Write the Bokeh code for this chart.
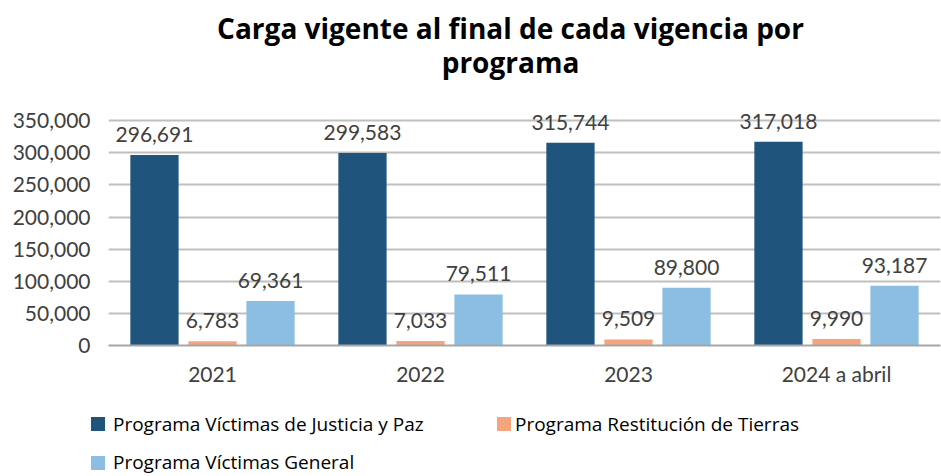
from bokeh.plotting import figure
from bokeh.layouts import column
from bokeh.models import (ColumnDataSource, FactorRange, Range1d, FixedTicker,
                          NumeralTickFormatter, LabelSet, Label, Div)
from bokeh.core.properties import value
from bokeh.transform import dodge
from bokeh.embed import file_html
from bokeh.resources import INLINE

categories = ["2021", "2022", "2023", "2024 a abril"]
justicia_paz = [296691, 299583, 315744, 317018]
restitucion = [6783, 7033, 9509, 9990]
victimas_general = [69361, 79511, 89800, 93187]
series_names = ["Programa Víctimas de Justicia y Paz",
                "Programa Restitución de Tierras",
                "Programa Víctimas General"]
title_lines = ["Carga vigente al final de cada vigencia por", "programa"]
colors = ["#1F547D", "#F4A57E", "#8CBDE3"]
y_ticks = [0, 50000, 100000, 150000, 200000, 250000, 300000, 350000]

FONT = "Lato"
TFONT = "Open Sans"

src = ColumnDataSource(dict(
    cat=categories,
    s0=justicia_paz, s1=restitucion, s2=victimas_general,
    l0=[f"{v:,}" for v in justicia_paz],
    l1=[f"{v:,}" for v in restitucion],
    l2=[f"{v:,}" for v in victimas_general],
))

# ---- title strip (pixel coordinates) ----
tf = figure(width=941, height=90, x_range=Range1d(108, 940), y_range=Range1d(90, 0),
            x_axis_type=None, y_axis_type=None, output_backend="svg",
            toolbar_location=None, min_border_left=108, min_border_right=1,
            min_border_top=0, min_border_bottom=0)
tf.outline_line_color = None
tf.xgrid.grid_line_color = None
tf.ygrid.grid_line_color = None
for txt, yy in zip(title_lines, [27, 61]):
    tf.add_layout(Label(x=510, y=yy, text=txt, text_align="center",
                        text_baseline="alphabetic", text_font=TFONT,
                        text_font_size="28px", text_font_style="bold",
                        text_color="#000000"))

# ---- main chart ----
p = figure(width=941, height=310, x_range=FactorRange(*categories),
           y_range=Range1d(0, 372000), output_backend="svg", title=None,
           toolbar_location=None, min_border_left=108, min_border_right=1,
           min_border_top=16, min_border_bottom=55)
p.outline_line_color = None
p.background_fill_color = None
p.border_fill_color = "white"

offsets = [-0.279, 0.0, 0.279]
width = 0.232
for i, key in enumerate(["s0", "s1", "s2"]):
    p.vbar(x=dodge("cat", offsets[i], range=p.x_range), top=key,
           width=width, source=src, color=colors[i], line_color=None)
    lbl = LabelSet(x=dodge("cat", offsets[i], range=p.x_range), y=key,
                   text="l" + key[1], source=src, text_align="center",
                   text_baseline="alphabetic", y_offset=13,
                   text_font=value(FONT), text_font_size=value("21px"),
                   text_color="#404040")
    p.add_layout(lbl)

p.yaxis.ticker = FixedTicker(ticks=y_ticks)
p.yaxis.formatter = NumeralTickFormatter(format="0,0")
p.yaxis.axis_line_color = None
p.yaxis.major_tick_line_color = None
p.yaxis.minor_tick_line_color = None
p.yaxis.major_label_standoff = 12
p.yaxis.major_label_text_font = FONT
p.yaxis.major_label_text_font_size = "21px"
p.yaxis.major_label_text_color = "#404040"

p.xaxis.axis_line_color = "#A6A6A6"
p.xaxis.axis_line_width = 2
p.xaxis.major_tick_line_color = None
p.xaxis.minor_tick_line_color = None
p.xaxis.major_label_standoff = 9
p.xaxis.major_label_text_font = FONT
p.xaxis.major_label_text_font_size = "21px"
p.xaxis.major_label_text_color = "#404040"

p.xgrid.grid_line_color = None
p.ygrid.grid_line_color = "#BFBFBF"
p.ygrid.grid_line_width = 2

# ---- legend strip (HTML) ----
item_pos = [(91, 0), (497, 0), (91, 1)]   # (swatch left, row)
parts = []
for name, col, (gx, row) in zip(series_names, colors, item_pos):
    gy = 17 + 39 * row
    ty = 15 + 38 * row
    tx = gx + (22 if gx < 200 else 18)
    parts.append(f'<span style="position:absolute;left:{gx}px;top:{gy}px;'
                 f'width:14px;height:14px;background:{col};"></span>')
    parts.append(f'<span style="position:absolute;left:{tx}px;top:{ty}px;'
                 f'line-height:19px;white-space:nowrap;">{name}</span>')
legend_html = ('<div style="position:relative;width:941px;height:76px;'
               'font-family:\'Open Sans\';font-size:19px;color:#000000;'
               'overflow:hidden;margin:0;padding:0;">' + "".join(parts) + '</div>')
lg = Div(text=legend_html, width=941, height=76, margin=(0, 0, 0, 0))

open("out.html", "w").write(file_html(column(tf, p, lg, spacing=0), INLINE))
